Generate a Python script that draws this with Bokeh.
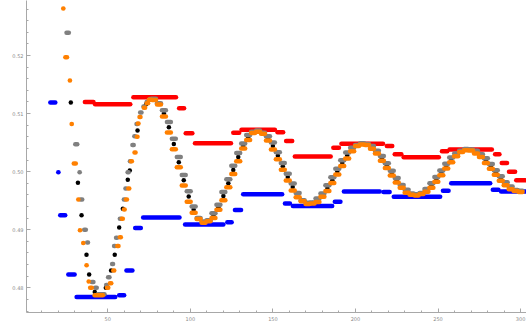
from bokeh.plotting import figure
from bokeh.models import Range1d, FixedTicker, NumeralTickFormatter, ColumnDataSource
from bokeh.embed import file_html
from bokeh.resources import INLINE

# ---------------- data ----------------
# blue lower steps: run start, run end, level
blue_x0 = [15.2, 20.0, 21.2, 26.1, 31.1, 56.9, 61.3, 66.6, 71.4, 96.8, 122.4, 127.0,
           132.0, 157.3, 162.1, 187.5, 193.0, 217.0, 223.2, 253.0, 258.0, 283.2, 288.2]
blue_x1 = [18.2, 20.1, 24.2, 29.9, 54.5, 59.9, 64.9, 70.0, 93.4, 120.0, 125.0, 130.7,
           155.6, 160.3, 185.9, 190.9, 214.7, 220.7, 251.3, 256.4, 281.6, 286.6, 303.0]
blue_y = [0.5119, 0.4999, 0.4925, 0.4823, 0.4784, 0.4787, 0.4830, 0.4903, 0.4921, 0.4909,
          0.4913, 0.4934, 0.4961, 0.4945, 0.4941, 0.4948, 0.4966, 0.4965, 0.4957, 0.4967,
          0.4980, 0.4969, 0.4966]

# red upper steps
red_x0 = [36.1, 42.3, 65.5, 93.2, 97.2, 102.8, 126.0, 131.0, 152.8, 158.0, 163.3, 186.6,
          191.5, 219.0, 223.8, 229.2, 252.4, 257.0, 284.6, 288.6, 293.0, 297.4]
red_x1 = [41.3, 63.6, 91.3, 96.2, 101.2, 124.6, 129.6, 151.2, 156.2, 161.7, 185.0, 190.0,
          216.7, 222.3, 227.8, 250.5, 255.6, 282.6, 287.2, 291.8, 296.7, 303.0]
red_y = [0.5120, 0.5116, 0.5128, 0.5109, 0.5066, 0.5049, 0.5067, 0.5072, 0.5068, 0.5053,
         0.5026, 0.5041, 0.5048, 0.5044, 0.5030, 0.5025, 0.5035, 0.5038, 0.5030, 0.5015,
         0.5000, 0.4985]

# first oscillation, individual runs of the gray series
gray_x0 = [25.0, 30.3, 32.9, 33.5, 35.7, 37.5, 40.3, 42.3, 44.0, 49.0, 50.2, 52.6, 53.8,
           55.0, 57.3, 59.7, 60.7, 62.0, 63.4, 64.9, 66.1, 67.4, 69.6, 71.6, 73.5, 75.5]
gray_x1 = [26.4, 31.5, 33.0, 34.5, 36.7, 38.0, 41.3, 43.3, 48.0, 49.6, 51.0, 53.2, 54.4,
           55.6, 58.1, 60.3, 61.1, 62.6, 63.9, 65.7, 66.5, 68.0, 70.4, 72.2, 74.3, 76.5]
gray_y = [0.5239, 0.5047, 0.4999, 0.4952, 0.4900, 0.4878, 0.4810, 0.4800, 0.4789, 0.4805,
          0.4818, 0.4841, 0.4872, 0.4886, 0.4919, 0.4952, 0.4971, 0.4999, 0.5018, 0.5046,
          0.5061, 0.5082, 0.5102, 0.5112, 0.5120, 0.5125]

# first oscillation, individual runs of the orange series
orange_x0 = [23.0, 24.3, 27.0, 28.1, 29.4, 32.1, 33.1, 35.1, 37.1, 38.4, 39.3, 42.0, 49.5,
             51.3, 53.3, 55.7, 57.3, 58.5, 59.8, 61.0, 62.4, 64.0, 66.2, 67.6, 68.2, 69.2,
             71.8, 73.6, 74.8]
orange_x1 = [23.1, 25.3, 27.1, 28.2, 30.6, 32.2, 33.2, 35.2, 37.2, 38.5, 40.3, 47.0, 50.3,
             52.1, 53.9, 56.5, 57.9, 59.1, 60.2, 61.6, 63.0, 64.6, 66.8, 68.0, 68.6, 69.8,
             72.6, 74.4, 76.4]
orange_y = [0.5281, 0.5197, 0.5157, 0.5082, 0.5014, 0.4952, 0.4899, 0.4877, 0.4839, 0.4811,
            0.4800, 0.4787, 0.4800, 0.4808, 0.4830, 0.4872, 0.4887, 0.4919, 0.4935, 0.4952,
            0.4971, 0.5018, 0.5033, 0.5060, 0.5083, 0.5094, 0.5110, 0.5118, 0.5124]

# black points in the first oscillation
black_x = [27.6, 31.9, 34.1, 37.1, 38.7, 42.1, 46.8, 48.8, 52.0, 54.2, 56.9, 59.1, 62.1,
           63.3, 68.0, 73.2]
black_y = [0.5119, 0.4981, 0.4925, 0.4857, 0.4823, 0.4793, 0.4788, 0.4800, 0.4830, 0.4857,
           0.4904, 0.4936, 0.4986, 0.5002, 0.5071, 0.5116]

# later oscillations, sampled every 3 units of x
later_x = list(range(78, 301, 3))
later_black = [0.51245, 0.51167, 0.51002, 0.50766, 0.50477, 0.50164, 0.49852, 0.49572,
               0.49345, 0.49194, 0.49131, 0.49154, 0.49242, 0.49388, 0.49579, 0.49800,
               0.50030, 0.50251, 0.50442, 0.50588, 0.50676, 0.50699, 0.50662, 0.50573,
               0.50440, 0.50274, 0.50091, 0.49906, 0.49736, 0.49596, 0.49499, 0.49453,
               0.49460, 0.49509, 0.49596, 0.49715, 0.49854, 0.50002, 0.50148, 0.50278,
               0.50382, 0.50451, 0.50479, 0.50467, 0.50417, 0.50336, 0.50228, 0.50105,
               0.49975, 0.49852, 0.49745, 0.49663, 0.49613, 0.49600, 0.49624, 0.49679,
               0.49762, 0.49866, 0.49980, 0.50096, 0.50202, 0.50289, 0.50349, 0.50378,
               0.50373, 0.50338, 0.50275, 0.50190, 0.50090, 0.49985, 0.49882, 0.49792,
               0.49721, 0.49676, 0.49660]
later_gray = [0.51255, 0.51177, 0.51056, 0.50856, 0.50567, 0.50254, 0.49942, 0.49662,
              0.49399, 0.49204, 0.49141, 0.49164, 0.49284, 0.49430, 0.49649, 0.49870,
              0.50100, 0.50321, 0.50484, 0.50630, 0.50686, 0.50709, 0.50672, 0.50609,
              0.50500, 0.50334, 0.50151, 0.49966, 0.49796, 0.49632, 0.49509, 0.49463,
              0.49470, 0.49539, 0.49626, 0.49765, 0.49904, 0.50052, 0.50198, 0.50328,
              0.50412, 0.50461, 0.50489, 0.50477, 0.50441, 0.50360, 0.50268, 0.50145,
              0.50015, 0.49892, 0.49769, 0.49687, 0.49623, 0.49610, 0.49634, 0.49703,
              0.49802, 0.49906, 0.50020, 0.50136, 0.50242, 0.50313, 0.50359, 0.50388,
              0.50383, 0.50362, 0.50299, 0.50230, 0.50130, 0.50025, 0.49922, 0.49816,
              0.49745, 0.49686, 0.49670]
later_orange = [0.51235, 0.51157, 0.50948, 0.50676, 0.50387, 0.50074, 0.49762, 0.49482,
                0.49291, 0.49184, 0.49121, 0.49144, 0.49200, 0.49346, 0.49509, 0.49730,
                0.49960, 0.50181, 0.50400, 0.50546, 0.50666, 0.50689, 0.50652, 0.50537,
                0.50380, 0.50214, 0.50031, 0.49846, 0.49676, 0.49560, 0.49489, 0.49443,
                0.49450, 0.49479, 0.49566, 0.49665, 0.49804, 0.49952, 0.50098, 0.50228,
                0.50352, 0.50441, 0.50469, 0.50457, 0.50393, 0.50312, 0.50188, 0.50065,
                0.49935, 0.49812, 0.49721, 0.49639, 0.49603, 0.49590, 0.49614, 0.49655,
                0.49722, 0.49826, 0.49940, 0.50056, 0.50162, 0.50265, 0.50339, 0.50368,
                0.50363, 0.50314, 0.50251, 0.50150, 0.50050, 0.49945, 0.49842, 0.49768,
                0.49697, 0.49666, 0.49650]

x_ticks = [50, 100, 150, 200, 250, 300]
x_minor = list(range(10, 301, 10))
y_ticks = [0.48, 0.49, 0.50, 0.51, 0.52]
y_minor = [round(0.476 + 0.002 * i, 3) for i in range(27)]

# ---------------- figure ----------------
p = figure(width=526, height=331, output_backend="svg", toolbar_location=None,
           x_range=Range1d(0.757, 303.6), y_range=Range1d(0.47575, 0.52947),
           min_border_left=26, min_border_right=0, min_border_top=0, min_border_bottom=19)
p.outline_line_color = None
p.xgrid.visible = False
p.ygrid.visible = False
p.background_fill_color = "white"
p.border_fill_color = "white"

RUN_HALF = 1.2
W = 4.5


def runs(x0, x1, y, color):
    src = ColumnDataSource(dict(x0=x0, x1=x1, y=y))
    p.segment(x0="x0", y0="y", x1="x1", y1="y", source=src, line_width=W,
              line_cap="round", line_color=color)


runs(red_x0, red_x1, red_y, "#ff0000")
runs(blue_x0, blue_x1, blue_y, "#0000ff")

p.scatter(black_x, black_y, marker="circle", size=W, color="black", line_width=0)
p.scatter(later_x, later_black, marker="circle", size=W, color="black", line_width=0)

runs(gray_x0, gray_x1, gray_y, "#808080")
runs([x - RUN_HALF for x in later_x], [x + RUN_HALF for x in later_x], later_gray, "#808080")
runs(orange_x0, orange_x1, orange_y, "#ff8000")
runs([x - RUN_HALF for x in later_x], [x + RUN_HALF for x in later_x], later_orange, "#ff8000")

p.xaxis.ticker = FixedTicker(ticks=x_ticks, minor_ticks=x_minor)
p.yaxis.ticker = FixedTicker(ticks=y_ticks, minor_ticks=y_minor)
p.yaxis.formatter = NumeralTickFormatter(format="0.00")

for ax in (p.xaxis[0], p.yaxis[0]):
    ax.axis_line_color = "#a8a8a8"
    ax.major_tick_line_color = "#a8a8a8"
    ax.minor_tick_line_color = "#a8a8a8"
    ax.major_tick_in = 4
    ax.major_tick_out = 0
    ax.minor_tick_in = 2
    ax.minor_tick_out = 0
    ax.major_label_text_font = "DejaVu Sans"
    ax.major_label_text_font_size = "5px"
    ax.major_label_text_color = "#8a8a8a"
p.xaxis.major_label_standoff = 4
p.yaxis.major_label_standoff = 3

open("out.html", "w").write(file_html(p, INLINE))
